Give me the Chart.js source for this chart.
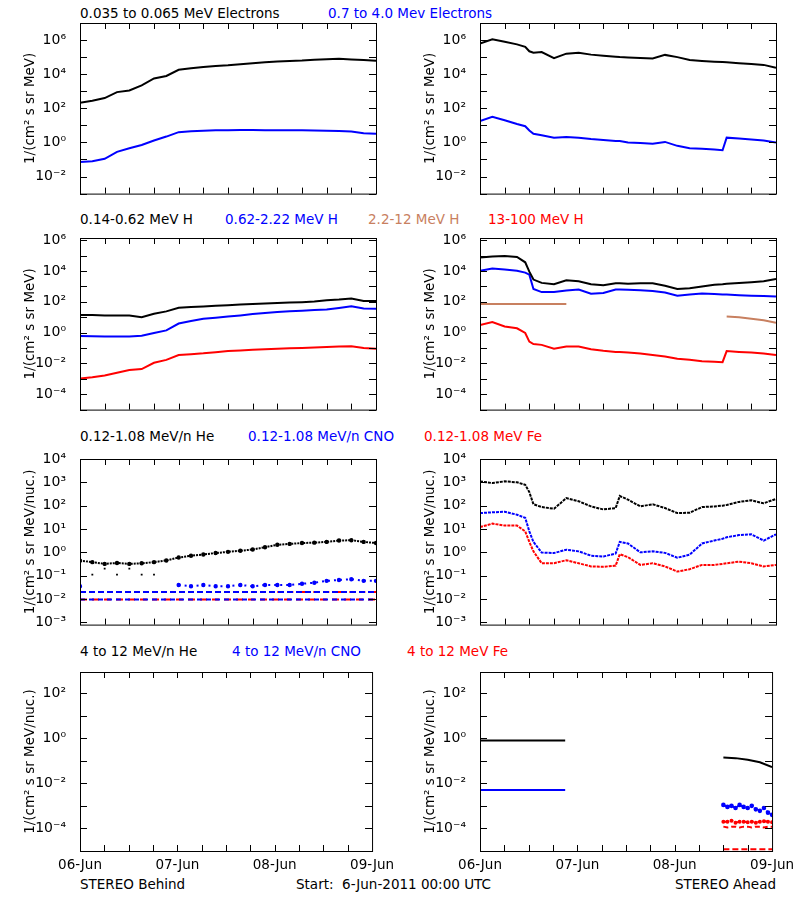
<!DOCTYPE html>
<html>
<head>
<meta charset="utf-8">
<script src="https://cdn.jsdelivr.net/npm/chart.js@4.4.0/dist/chart.umd.min.js"></script>
<style>
  body { margin: 0; background: #fff; }
  #wrap { position: relative; width: 800px; height: 900px; font-family: 'DejaVu Sans', sans-serif; font-size: 13.5px; }
  #wrap canvas { position: absolute; }
  .lbl { position: absolute; white-space: pre; line-height: 14px; }
</style>
</head>
<body>
<div id="wrap"></div>
<script>
// time grids, hours since 06-Jun-2011 00:00
const hoursBehind = [0,3,6,9,12,15,18,21,24,27,30,33,36,39,42,45,48,51,54,57,60,63,66,69,72];
const hoursAhead = [0,3,6,9,11,12,13,15,18,21,24,27,30,33,34,36,39,42,45,48,51,54,57,59,60,63,66,69,72];
const hoursAheadLate = [60,61,62,63,64,65,66,67,68,69,70,71,72];
const dayLabels = ['06-Jun', '07-Jun', '08-Jun', '09-Jun'];

// row 1: electrons
const eLowBehind = [210,280,400,890,1100,2200,5600,7900,18000,22000,26000,30000,33000,38000,44000,50000,56000,60000,63000,69000,74000,79000,72000,68000,62000];
const eHighBehind = [0.071,0.079,0.11,0.28,0.45,0.71,1.3,2.2,4.0,4.5,4.8,5.2,5.2,5.3,5.3,5.2,5.2,5.2,5.1,5.0,4.8,4.6,4.3,3.5,3.2];
const eLowAhead = [630000,1100000,790000,560000,400000,220000,180000,200000,87000,160000,180000,140000,120000,105000,100000,95000,89000,83000,135000,100000,68000,60000,54000,51000,50000,44000,40000,35000,24000];
const eHighAhead = [18,32,20,12,8.9,5.0,3.2,2.6,1.9,2.1,1.9,1.6,1.4,1.2,1.2,1.0,0.93,0.83,1.07,0.63,0.45,0.42,0.38,0.35,1.9,1.7,1.5,1.3,0.98];

// row 2: protons
const h1Behind = [14,14,13,13,13,10,17,24,41,46,50,55,60,66,72,78,83,89,95,105,126,141,166,115,115];
const h2Behind = [0.6,0.59,0.56,0.56,0.56,0.63,0.95,1.4,3.9,5.6,7.9,9.3,11,13,16,19,22,24,26,29,32,40,51,37,35];
const h4Behind = [0.00105,0.00126,0.00166,0.0025,0.0037,0.0043,0.011,0.017,0.035,0.04,0.045,0.054,0.063,0.069,0.076,0.083,0.091,0.095,0.1,0.107,0.115,0.126,0.132,0.1,0.091];
const h1Ahead = [76000,89000,95000,83000,37000,9100,2800,1700,1400,2500,2200,1400,1200,1600,1600,1500,1600,1600,1100,690,760,1000,1300,1400,1500,1700,1900,2200,3100];
const h2Ahead = [10500,14500,12600,10500,7900,5800,690,430,430,540,630,340,370,630,630,600,560,510,400,250,300,350,320,300,300,270,250,240,220];
const h3Ahead = [72,72,72,72,72,72,72,72,72,72,null,null,null,null,null,null,null,null,null,null,null,null,null,null,11,10,7.9,6.3,4.3];
const h4Ahead = [3.1,4.9,2.5,1.9,0.95,0.26,0.18,0.16,0.091,0.126,0.126,0.083,0.066,0.056,0.055,0.051,0.044,0.035,0.028,0.02,0.017,0.014,0.0126,0.012,0.063,0.056,0.051,0.044,0.035];

// row 3: low energy ions
const heLowBehind = [0.44,0.38,0.32,0.35,0.32,0.34,0.38,0.45,0.6,0.71,0.81,0.93,1.05,1.17,1.32,1.66,2.1,2.3,2.5,2.6,2.8,3.2,3.3,2.8,2.5];
const heFloorBehind = [0.2,0.11,0.2,0.11,0.2,0.11,0.11,null,null,null,null,null,null,null,null,null,null,null,null,null,null,null,null,null,null];
const cnoLowBehind = [0.035,null,null,null,null,null,null,null,0.04,0.035,0.04,0.035,0.035,0.04,0.035,0.04,0.04,0.04,0.045,0.05,0.06,0.065,0.07,0.06,0.06];
const cnoFloorBehind = [0.0095,0.0095,0.0095,0.0095,0.0095,0.0095,0.0095,0.0095,0.0095,0.0095,0.0095,0.0095,0.0095,0.0095,0.0095,0.0095,0.0095,0.0095,0.0095,0.0095,0.0095,0.0095,0.0095,0.0095,0.0095];
const cnoFloor2Behind = [0.02,0.02,0.02,0.02,0.02,0.02,0.02,0.02,0.02,0.02,0.02,0.02,0.02,0.02,0.02,0.02,0.02,0.02,0.02,0.02,0.02,0.02,0.02,0.02,0.02];
const feFloorBehind = [0.0095,0.0095,0.0095,0.0095,0.0095,0.0095,0.0095,0.0095,0.0095,0.0095,0.0095,0.0095,0.0095,0.0095,0.0095,0.0095,0.0095,0.0095,0.0095,0.0095,0.0095,0.0095,0.0095,0.0095,0.0095];
const feFloor2Behind = [null,null,null,null,null,null,null,null,null,null,null,null,null,null,null,null,0.02,0.02,0.02,0.02,0.02,0.02,0.02,0.02,0.02];
const heLowAhead = [1100,930,1100,1000,790,380,115,87,74,210,155,93,69,79,260,180,93,115,79,48,50,87,93,100,107,145,170,126,195];
const cnoLowAhead = [48,52,55,41,30,7.9,2.8,0.98,0.93,1.3,1.1,0.72,0.66,0.89,2.8,2.4,1.0,1.1,0.95,0.59,0.79,2.4,3.2,3.8,4.4,5.5,5.9,3.2,5.9];
const feLowAhead = [12,17,14,14,7.9,2.8,1.1,0.34,0.34,0.46,0.34,0.25,0.24,0.27,0.83,0.62,0.29,0.34,0.25,0.15,0.19,0.29,0.29,0.32,0.34,0.4,0.34,0.25,0.29];

// row 4: high energy ions (Ahead only)
const heHighAhead = [0.79,0.79,0.79,0.79,0.79,0.79,0.79,0.79,0.79,0.79,null,null,null,null,null,null,null,null,null,null,null,null,null,null,0.14,0.13,0.11,0.085,0.052];
const cnoHighAhead = [0.005,0.005,0.005,0.005,0.005,0.005,0.005,0.005,0.005,0.005,null,null,null,null,null,null,null,null,null,null,null,null,null,null,null,null,null,null,null];
const cnoHighAheadLate = [0.0011,0.0009,0.001,0.0008,0.0011,0.0009,0.0008,0.001,0.0007,0.0006,0.0008,0.0005,0.0004];
const feHighAheadLate = [0.0002,0.0002,0.00022,0.00018,0.0002,0.0002,0.00019,0.0002,0.00018,0.0002,0.00021,0.0002,0.00019];
const feHighAheadLate2 = [0.00012,0.00011,0.00012,0.00012,0.00011,0.00012,0.00012,0.00011,0.00012,0.00012,0.00011,0.00012,0.00012];
const feHighAheadFloor = [0.000012,0.000012,0.000012,0.000012,0.000012,0.000012,0.000012,0.000012,0.000012,0.000012,0.000012,0.000012,0.000012];

const BLACK = '#000000', BLUE = '#0000ff', RED = '#ff0000', BROWN = '#c88060';
const SUP = {'-':'⁻','0':'⁰','1':'¹','2':'²','3':'³','4':'⁴','5':'⁵','6':'⁶','7':'⁷','8':'⁸','9':'⁹'};

function pts(xs, ys) { return xs.map((x, i) => ({x: x, y: ys[i]})); }

function line(xs, ys, color, extra) {
  return Object.assign({
    data: pts(xs, ys), borderColor: color, backgroundColor: color,
    borderWidth: 2, pointRadius: 0, tension: 0, spanGaps: false
  }, extra || {});
}
function dots(xs, ys, color) {
  return line(xs, ys, color, {showLine: false, pointRadius: 1.3, pointStyle: 'rect', borderWidth: 0});
}

const rows = [
  {top: 23, bottom: 203, min: 1e-3, max: 1e7, labelExp: [-2,0,2,4,6], title: '1/(cm² s sr MeV)'},
  {top: 238, bottom: 419, min: 1e-5, max: 1.4e6, labelExp: [-4,-2,0,2,4,6], title: '1/(cm² s sr MeV)'},
  {top: 459, bottom: 634, min: 8e-4, max: 1e4, labelExp: [-3,-2,-1,0,1,2,3,4], title: '1/(cm² s sr MeV/nuc.)'},
  {top: 672, bottom: 851, min: 1e-5, max: 8.5e2, labelExp: [-4,-2,0,2], title: '1/(cm² s sr MeV/nuc.)'}
];

const panels = [
  {row: 0, col: 0, sets: [line(hoursBehind, eLowBehind, BLACK), line(hoursBehind, eHighBehind, BLUE)]},
  {row: 0, col: 1, sets: [line(hoursAhead, eLowAhead, BLACK), line(hoursAhead, eHighAhead, BLUE)]},
  {row: 1, col: 0, sets: [line(hoursBehind, h1Behind, BLACK), line(hoursBehind, h2Behind, BLUE), line(hoursBehind, h4Behind, RED)]},
  {row: 1, col: 1, sets: [line(hoursAhead, h1Ahead, BLACK), line(hoursAhead, h2Ahead, BLUE), line(hoursAhead, h3Ahead, BROWN), line(hoursAhead, h4Ahead, RED)]},
  {row: 2, col: 0, sets: [
    line(hoursBehind, heLowBehind, BLACK, {borderDash: [2, 1], pointRadius: 1.2}),
    dots(hoursBehind, heFloorBehind, BLACK),
    line(hoursBehind, cnoLowBehind, BLUE, {borderDash: [2, 4], pointRadius: 1.2}),
    line(hoursBehind, cnoFloor2Behind, BLUE, {borderDash: [6, 3]}),
    line(hoursBehind, feFloor2Behind, RED, {borderDash: [4, 8]}),
    line(hoursBehind, cnoFloorBehind, BLUE, {borderDash: [5, 4]}),
    line(hoursBehind, feFloorBehind, RED, {borderDash: [7, 5]})]},
  {row: 2, col: 1, sets: [
    line(hoursAhead, heLowAhead, BLACK, {borderDash: [3, 1]}),
    line(hoursAhead, cnoLowAhead, BLUE, {borderDash: [3, 1]}),
    line(hoursAhead, feLowAhead, RED, {borderDash: [3, 1]})]},
  {row: 3, col: 0, sets: []},
  {row: 3, col: 1, sets: [
    line(hoursAhead, heHighAhead, BLACK), line(hoursAhead, cnoHighAhead, BLUE),
    line(hoursAheadLate, cnoHighAheadLate, BLUE, {borderDash: [3, 2], pointRadius: 1.3}),
    line(hoursAheadLate, feHighAheadLate, RED, {borderDash: [3, 4], pointRadius: 1}),
    line(hoursAheadLate, feHighAheadLate2, RED, {borderDash: [5, 3]}),
    line(hoursAheadLate, feHighAheadFloor, RED, {borderDash: [6, 3]})]}
];

const headers = [
  [23, [[80, BLACK, '0.035 to 0.065 MeV Electrons'], [328, BLUE, '0.7 to 4.0 Mev Electrons']]],
  [229, [[80, BLACK, '0.14-0.62 MeV H'], [225, BLUE, '0.62-2.22 MeV H'], [368, BROWN, '2.2-12 MeV H'], [488, RED, '13-100 MeV H']]],
  [446, [[80, BLACK, '0.12-1.08 MeV/n He'], [248, BLUE, '0.12-1.08 MeV/n CNO'], [424, RED, '0.12-1.08 MeV Fe']]],
  [661, [[80, BLACK, '4 to 12 MeV/n He'], [232, BLUE, '4 to 12 MeV/n CNO'], [407, RED, '4 to 12 MeV Fe']]]
];

const wrap = document.getElementById('wrap');
function addText(x, y, color, text, align) {
  const d = document.createElement('div');
  d.className = 'lbl';
  d.style.top = (y - 7) + 'px';
  d.style.color = color;
  d.textContent = text;
  if (align === 'right') { d.style.right = (800 - x) + 'px'; } else { d.style.left = x + 'px'; }
  wrap.appendChild(d);
}
headers.forEach(h => h[1].forEach(t => addText(t[0], h[0] - 10, t[1], t[2])));
addText(80, 884, BLACK, 'STEREO Behind');
addText(296, 884, BLACK, 'Start:  6-Jun-2011 00:00 UTC');
addText(776, 884, BLACK, 'STEREO Ahead', 'right');

// box with inward ticks, IDL style
const boxTicks = {
  id: 'boxTicks',
  afterDraw(chart) {
    const a = chart.chartArea, ctx = chart.ctx, xs = chart.scales.x, ys = chart.scales.y;
    ctx.save();
    ctx.strokeStyle = '#000';
    ctx.lineWidth = 1;
    ctx.strokeRect(a.left + 0.5, a.top + 0.5, a.right - a.left, a.bottom - a.top);
    ctx.beginPath();
    for (let h = 6; h < 72; h += 6) {
      const px = Math.round(xs.getPixelForValue(h)) + 0.5;
      ctx.moveTo(px, a.bottom); ctx.lineTo(px, a.bottom - 6);
      ctx.moveTo(px, a.top); ctx.lineTo(px, a.top + 6);
    }
    for (let e = -6; e <= 7; e++) {
      const v = Math.pow(10, e);
      if (v < ys.min || v > ys.max) continue;
      const py = Math.round(ys.getPixelForValue(v)) + 0.5;
      ctx.moveTo(a.left, py); ctx.lineTo(a.left + 7, py);
      ctx.moveTo(a.right, py); ctx.lineTo(a.right - 7, py);
    }
    ctx.stroke();
    ctx.restore();
  }
};

panels.forEach(p => {
  const r = rows[p.row];
  const last = p.row === 3;
  const padTop = 30, padBottom = last ? 0 : 5;
  const cv = document.createElement('canvas');
  const h = r.bottom - r.top + padTop + (last ? 28 : padBottom);
  cv.width = 400; cv.height = h;
  cv.style.left = (p.col * 400) + 'px';
  cv.style.top = (r.top - padTop) + 'px';
  wrap.appendChild(cv);
  new Chart(cv, {
    type: 'line',
    data: {datasets: p.sets},
    options: {
      responsive: false, animation: false, devicePixelRatio: 1,
      layout: {padding: {top: padTop, right: 24, bottom: padBottom, left: 0}},
      plugins: {legend: {display: false}, tooltip: {enabled: false}},
      scales: {
        x: {
          type: 'linear', min: 0, max: 72,
          grid: {display: false, tickLength: 0}, border: {display: false},
          afterBuildTicks: s => { s.ticks = [0, 24, 48, 72].map(v => ({value: v})); },
          ticks: {
            display: last, color: '#000', padding: 6, maxRotation: 0, autoSkip: false,
            font: {family: 'DejaVu Sans', size: 13.5},
            callback: v => dayLabels[v / 24]
          },
          afterFit: s => { s.height = last ? 28 : 0; }
        },
        y: {
          type: 'logarithmic', min: r.min, max: r.max,
          grid: {display: false}, border: {display: false},
          afterBuildTicks: s => { s.ticks = r.labelExp.map(e => ({value: Math.pow(10, e)})); },
          ticks: {
            color: '#000', padding: 6, autoSkip: false,
            font: {family: 'DejaVu Sans', size: 14},
            callback: v => '10' + String(Math.round(Math.log10(v))).split('').map(c => SUP[c]).join('')
          },
          title: {display: true, text: r.title, color: '#000', font: {family: 'DejaVu Sans', size: 13.5}, padding: {top: 22, bottom: 0}},
          afterFit: s => { s.width = 80; }
        }
      }
    },
    plugins: [boxTicks]
  });
});
</script>
</body>
</html>
